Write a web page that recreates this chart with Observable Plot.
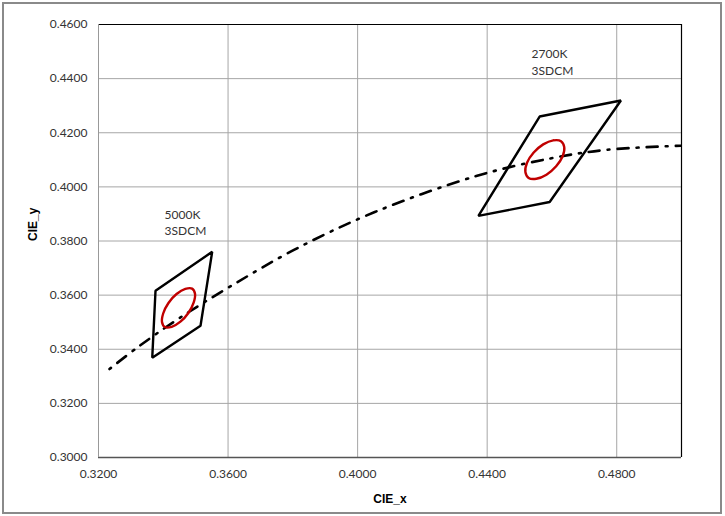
<!DOCTYPE html>
<html><head><meta charset="utf-8">
<script src="https://cdn.jsdelivr.net/npm/d3@7"></script>
<script src="https://cdn.jsdelivr.net/npm/@observablehq/plot@0.6"></script>
<style>
body{margin:0;background:#fff;}
#wrap{position:relative;width:725px;height:516px;overflow:hidden;}
#border{position:absolute;left:2px;top:2px;width:720px;height:512px;border:2px solid #8a8a8a;box-sizing:border-box;}
#chart{position:absolute;left:0;top:0;}
</style></head><body>
<div id="wrap"><div id="border"></div><div id="chart"></div></div>
<script>
const xTicks = [0.32, 0.36, 0.40, 0.44, 0.48];
const yTicks = [0.30, 0.32, 0.34, 0.36, 0.38, 0.40, 0.42, 0.44, 0.46];

// ANSI quadrangles (CIE x, y)
const quad5000X = [0.3376, 0.3551, 0.3515, 0.3366];
const quad5000Y = [0.3616, 0.3760, 0.3487, 0.3369];
const quad2700X = [0.4562, 0.4813, 0.4593, 0.4373];
const quad2700Y = [0.4260, 0.4319, 0.3944, 0.3893];

// 3-step ellipse outlines
const ell5000X = [0.3489, 0.3468, 0.3441, 0.3416, 0.3400, 0.3396, 0.3405, 0.3426, 0.3453, 0.3478, 0.3494, 0.3498];
const ell5000Y = [0.3624, 0.3623, 0.3604, 0.3571, 0.3533, 0.3501, 0.3482, 0.3483, 0.3502, 0.3535, 0.3573, 0.3605];
const ell2700X = [0.4628, 0.4604, 0.4573, 0.4543, 0.4523, 0.4518, 0.4528, 0.4552, 0.4583, 0.4613, 0.4633, 0.4638];
const ell2700Y = [0.4169, 0.4172, 0.4157, 0.4126, 0.4089, 0.4055, 0.4033, 0.4030, 0.4045, 0.4076, 0.4113, 0.4147];

// Planckian locus (black body curve)
const locusX = [0.3234, 0.3324, 0.3451, 0.3611, 0.3805, 0.4053, 0.4369, 0.4599, 0.4770, 0.5018];
const locusY = [0.3327, 0.3410, 0.3516, 0.3635, 0.3768, 0.3907, 0.4041, 0.4106, 0.4137, 0.4153];

const labelText = ["5000K\n3SDCM", "2700K\n3SDCM"];
const labelX = [0.3404, 0.4537];
const labelY = [0.3871, 0.4464];

const pts = (xs, ys) => xs.map((x, i) => ({x, y: ys[i]}));
const fmt = d3.format(".4f");

const chart = Plot.plot({
  width: 725,
  height: 516,
  marginLeft: 98,
  marginRight: 44,
  marginTop: 24,
  marginBottom: 59,
  style: {fontFamily: "Lato, 'Open Sans', sans-serif", fontSize: "12px", color: "#333", background: "transparent"},
  x: {domain: [0.32, 0.50], ticks: xTicks, tickFormat: fmt, tickSize: 0, tickPadding: 12, label: null},
  y: {domain: [0.30, 0.46], ticks: yTicks, tickFormat: fmt, tickSize: 0, tickPadding: 11, label: null},
  marks: [
    Plot.ruleX(xTicks, {stroke: "#a6a6a6", strokeWidth: 1}),
    Plot.ruleY(yTicks, {stroke: "#a6a6a6", strokeWidth: 1}),
    Plot.ruleY([0.46], {stroke: "#000", strokeWidth: 1.2}),
    Plot.ruleX([0.50], {stroke: "#000", strokeWidth: 1.2}),
    Plot.ruleY([0.30], {stroke: "#555", strokeWidth: 1.5}),
    Plot.ruleX([0.32], {stroke: "#999", strokeWidth: 1}),
    Plot.line(pts(locusX, locusY), {x: "x", y: "y", curve: "catmull-rom", stroke: "#000", strokeWidth: 2.6, strokeDasharray: "2,8,11,8", clip: true}),
    Plot.line(pts(quad5000X, quad5000Y), {x: "x", y: "y", curve: "linear-closed", stroke: "#000", strokeWidth: 2.4, strokeLinejoin: "miter"}),
    Plot.line(pts(quad2700X, quad2700Y), {x: "x", y: "y", curve: "linear-closed", stroke: "#000", strokeWidth: 2.4, strokeLinejoin: "miter"}),
    Plot.line(pts(ell5000X, ell5000Y), {x: "x", y: "y", curve: "catmull-rom-closed", stroke: "#c00000", strokeWidth: 2.4}),
    Plot.line(pts(ell2700X, ell2700Y), {x: "x", y: "y", curve: "catmull-rom-closed", stroke: "#c00000", strokeWidth: 2.4}),
    Plot.text(labelText, {x: (d, i) => labelX[i], y: (d, i) => labelY[i], text: d => d, textAnchor: "start", lineAnchor: "middle", lineHeight: 1.35, fontSize: 12, fill: "#333"}),
    Plot.text(["CIE_x"], {frameAnchor: "bottom", dy: 45, fontWeight: "bold", fontSize: 12, fontFamily: "'Liberation Sans', Arial, sans-serif", fill: "#000"}),
    Plot.text(["CIE_y"], {frameAnchor: "left", dx: -65, rotate: -90, fontWeight: "bold", fontSize: 12, fontFamily: "'Liberation Sans', Arial, sans-serif", fill: "#000"})
  ]
});
document.getElementById("chart").appendChild(chart);
</script>
</body></html>
